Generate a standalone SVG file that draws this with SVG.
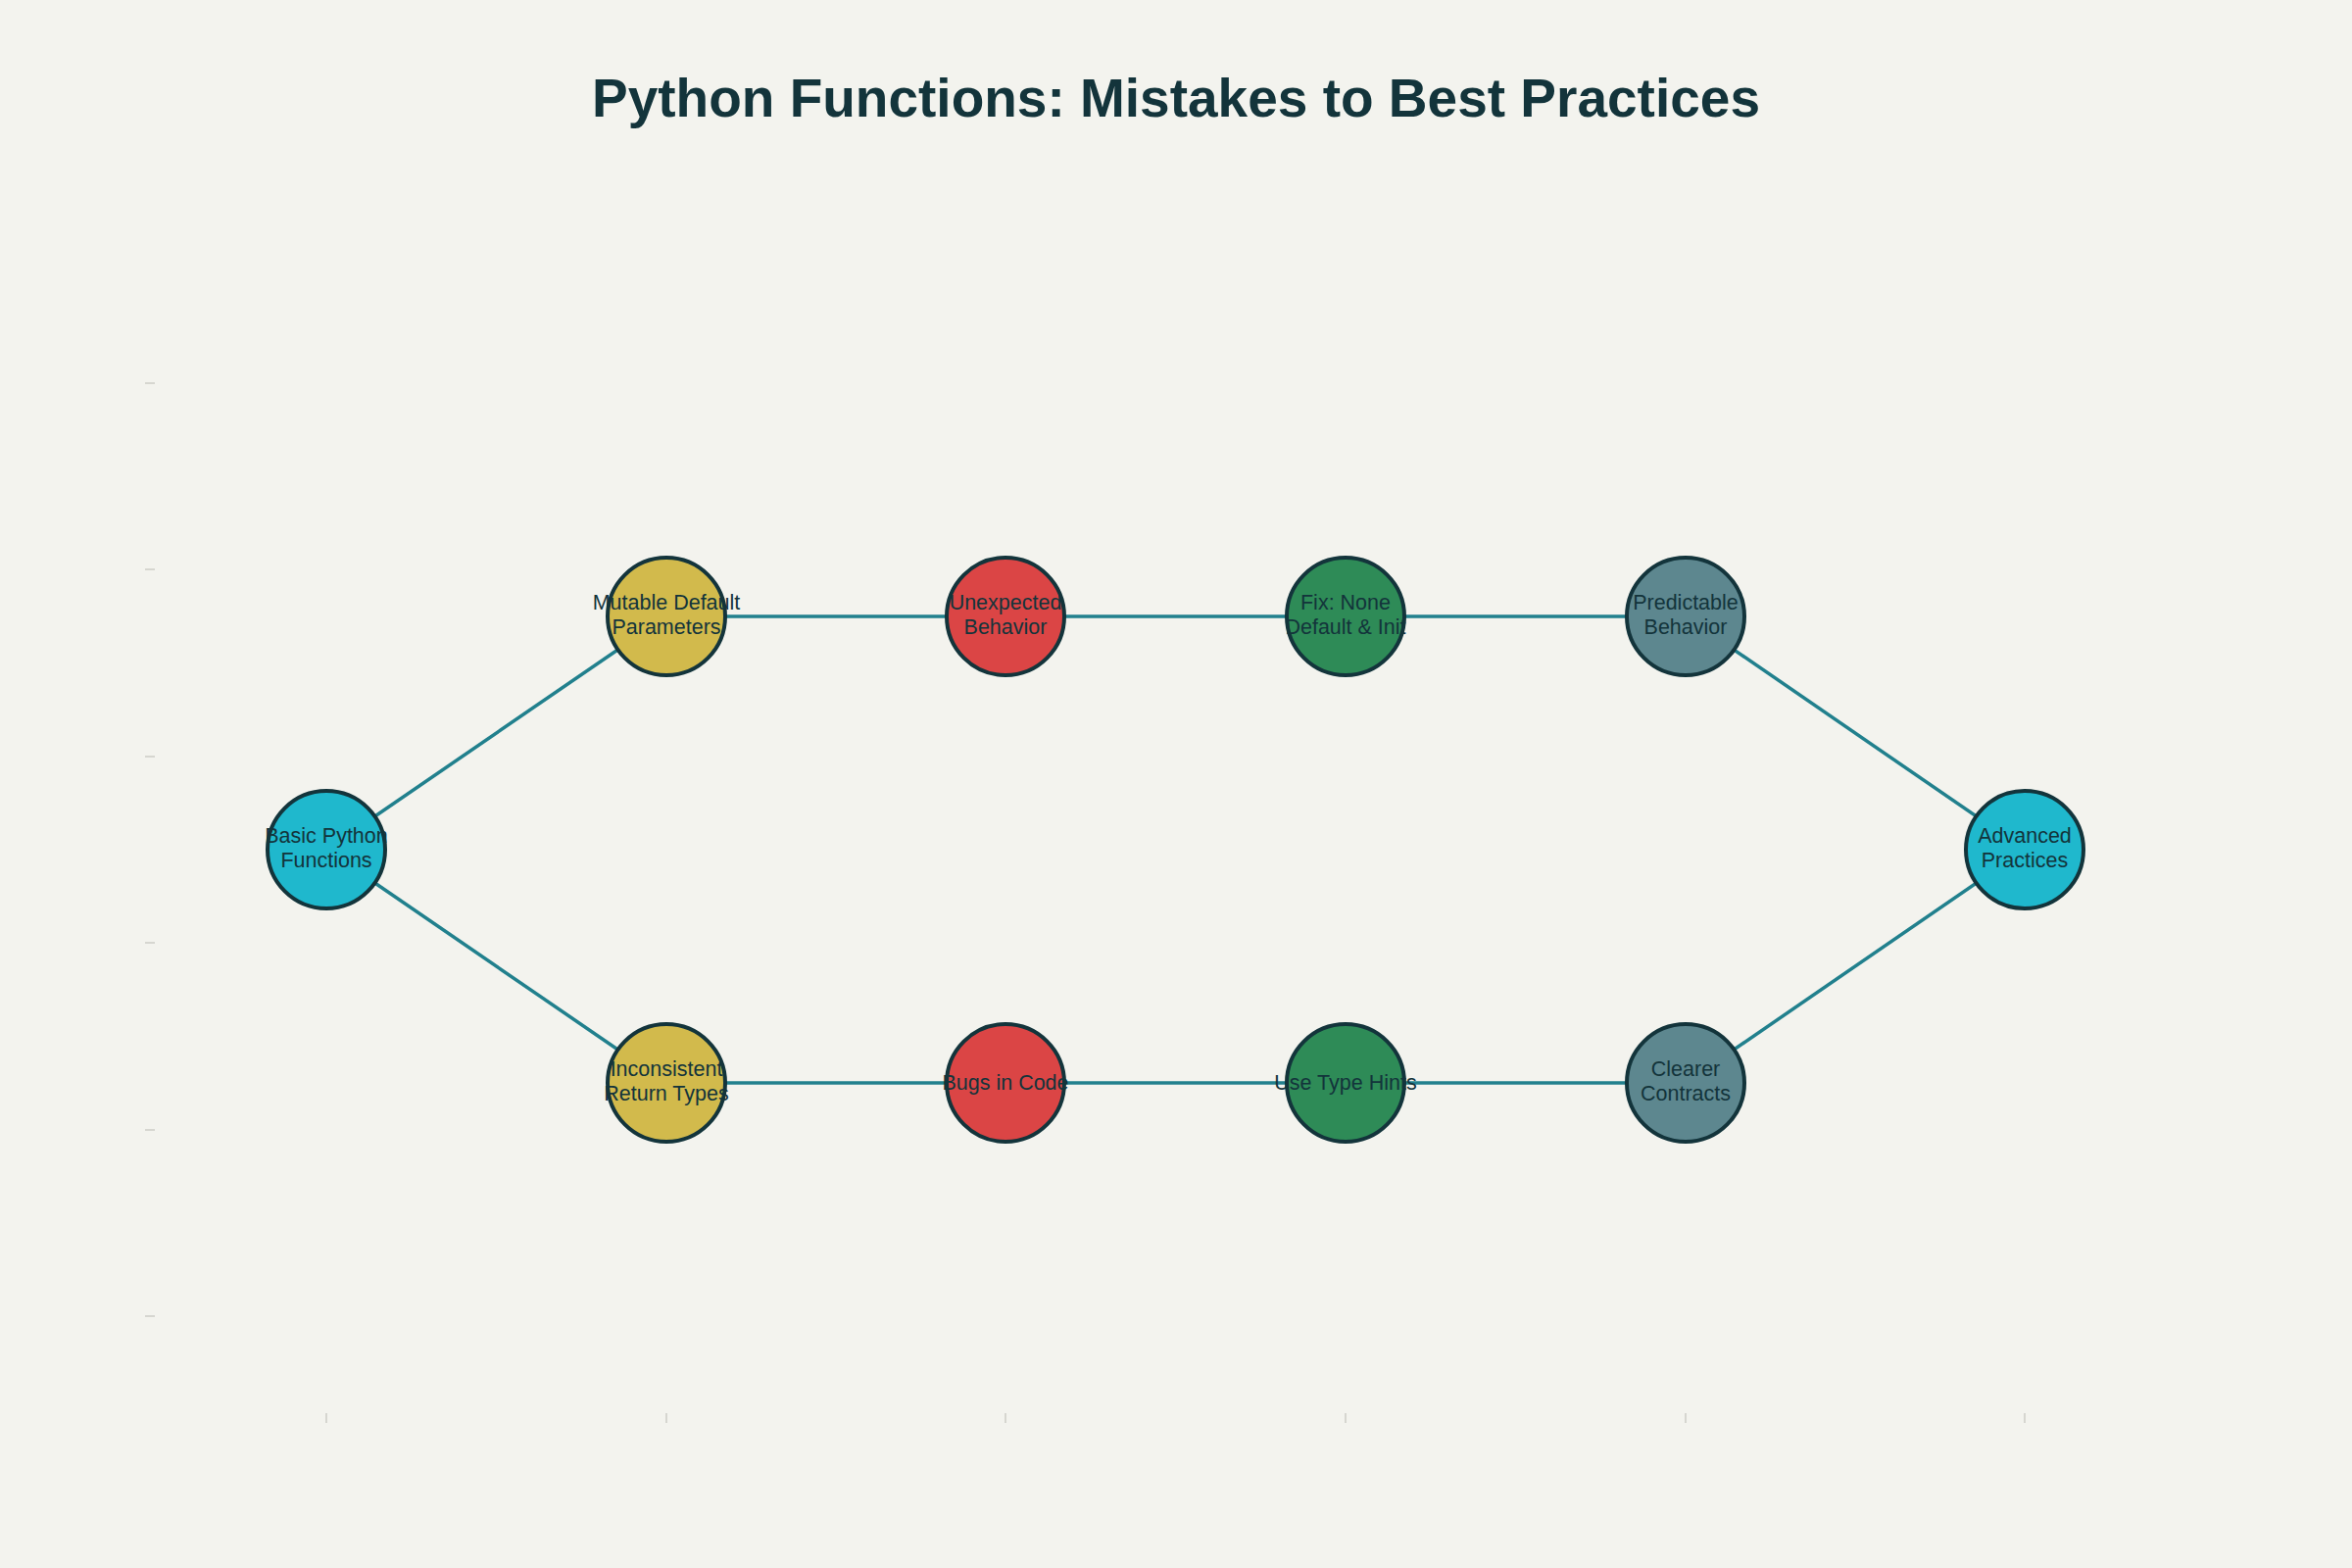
<svg xmlns="http://www.w3.org/2000/svg" width="2400" height="1600" viewBox="0 0 2400 1600">
<style>
.bg{fill:#f3f3ee}
.title{font-family:"Liberation Sans",Arial,sans-serif;font-weight:bold;font-size:55px;fill:#13343b}
.lbl{font-family:"Liberation Sans",Arial,sans-serif;font-size:21.5px;fill:#13343b;text-anchor:middle}
.node{stroke:#13343b;stroke-width:4}
.edge{stroke:#21808d;stroke-width:3.5;fill:none}
.tick{stroke:#d6d6d0;stroke-width:2}
.c1{fill:#1fb8cd}.c2{fill:#d2ba4c}.c3{fill:#db4545}.c4{fill:#2e8b57}.c5{fill:#5d878f}
</style>
<rect class="bg" x="0" y="0" width="2400" height="1600"/>
<text class="title" x="1200" y="119" text-anchor="middle">Python Functions: Mistakes to Best Practices</text>
<g id="ticks">
<line class="tick" x1="148" y1="391" x2="158" y2="391"/>
<line class="tick" x1="148" y1="581" x2="158" y2="581"/>
<line class="tick" x1="148" y1="772" x2="158" y2="772"/>
<line class="tick" x1="148" y1="962" x2="158" y2="962"/>
<line class="tick" x1="148" y1="1153" x2="158" y2="1153"/>
<line class="tick" x1="148" y1="1343" x2="158" y2="1343"/>
<line class="tick" x1="333" y1="1442" x2="333" y2="1452"/>
<line class="tick" x1="680" y1="1442" x2="680" y2="1452"/>
<line class="tick" x1="1026" y1="1442" x2="1026" y2="1452"/>
<line class="tick" x1="1373" y1="1442" x2="1373" y2="1452"/>
<line class="tick" x1="1720" y1="1442" x2="1720" y2="1452"/>
<line class="tick" x1="2066" y1="1442" x2="2066" y2="1452"/>
</g>
<g id="connectors">
<line class="edge" x1="333" y1="867" x2="680" y2="629"/>
<line class="edge" x1="333" y1="867" x2="680" y2="1105"/>
<line class="edge" x1="680" y1="629" x2="1026" y2="629"/>
<line class="edge" x1="1026" y1="629" x2="1373" y2="629"/>
<line class="edge" x1="1373" y1="629" x2="1720" y2="629"/>
<line class="edge" x1="1720" y1="629" x2="2066" y2="867"/>
<line class="edge" x1="680" y1="1105" x2="1026" y2="1105"/>
<line class="edge" x1="1026" y1="1105" x2="1373" y2="1105"/>
<line class="edge" x1="1373" y1="1105" x2="1720" y2="1105"/>
<line class="edge" x1="1720" y1="1105" x2="2066" y2="867"/>
</g>
<g id="n-basic"><circle class="node c1" cx="333" cy="867" r="60"/><text class="lbl" x="333" y="860">Basic Python</text><text class="lbl" x="333" y="885">Functions</text></g>
<g id="n-mutable"><circle class="node c2" cx="680" cy="629" r="60"/><text class="lbl" x="680" y="622">Mutable Default</text><text class="lbl" x="680" y="647">Parameters</text></g>
<g id="n-unexpected"><circle class="node c3" cx="1026" cy="629" r="60"/><text class="lbl" x="1026" y="622">Unexpected</text><text class="lbl" x="1026" y="647">Behavior</text></g>
<g id="n-fix"><circle class="node c4" cx="1373" cy="629" r="60"/><text class="lbl" x="1373" y="622">Fix: None</text><text class="lbl" x="1373" y="647">Default &amp; Init</text></g>
<g id="n-predictable"><circle class="node c5" cx="1720" cy="629" r="60"/><text class="lbl" x="1720" y="622">Predictable</text><text class="lbl" x="1720" y="647">Behavior</text></g>
<g id="n-advanced"><circle class="node c1" cx="2066" cy="867" r="60"/><text class="lbl" x="2066" y="860">Advanced</text><text class="lbl" x="2066" y="885">Practices</text></g>
<g id="n-inconsistent"><circle class="node c2" cx="680" cy="1105" r="60"/><text class="lbl" x="680" y="1098">Inconsistent</text><text class="lbl" x="680" y="1123">Return Types</text></g>
<g id="n-bugs"><circle class="node c3" cx="1026" cy="1105" r="60"/><text class="lbl" x="1026" y="1112">Bugs in Code</text></g>
<g id="n-typehints"><circle class="node c4" cx="1373" cy="1105" r="60"/><text class="lbl" x="1373" y="1112">Use Type Hints</text></g>
<g id="n-clearer"><circle class="node c5" cx="1720" cy="1105" r="60"/><text class="lbl" x="1720" y="1098">Clearer</text><text class="lbl" x="1720" y="1123">Contracts</text></g>
</svg>
